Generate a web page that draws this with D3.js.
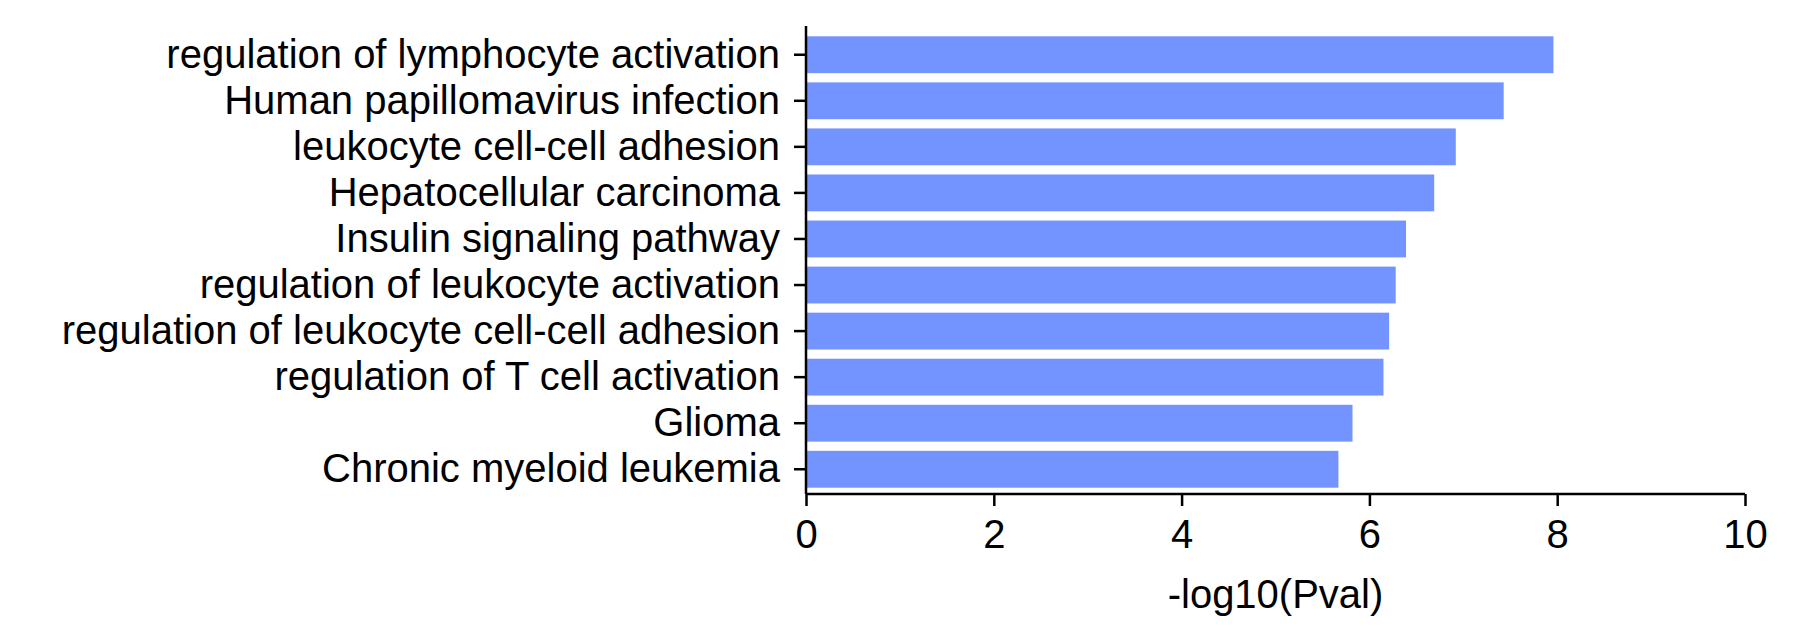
<!DOCTYPE html>
<html><head><meta charset="utf-8">
<script src="https://cdn.jsdelivr.net/npm/d3@7"></script>
<style>body{margin:0;background:#fff}text{font-family:"Liberation Sans",Arial,sans-serif}</style>
</head><body><div id="chart"></div>
<script>
// terms and their -log10(P)
var terms = ["regulation of lymphocyte activation", "Human papillomavirus infection",
  "leukocyte cell-cell adhesion", "Hepatocellular carcinoma", "Insulin signaling pathway",
  "regulation of leukocyte activation", "regulation of leukocyte cell-cell adhesion",
  "regulation of T cell activation", "Glioma", "Chronic myeloid leukemia"];
var values = [7.96, 7.43, 6.92, 6.69, 6.39, 6.28, 6.21, 6.15, 5.82, 5.67];
var xTicks = [0, 2, 4, 6, 8, 10];

var svgWidth = 1812, svgHeight = 644;
var margin = { top: 26, right: 67, bottom: 150, left: 806 };
var width = svgWidth - margin.left - margin.right;
var height = svgHeight - margin.top - margin.bottom;

var svg = d3.select("#chart").append("svg")
    .attr("width", svgWidth).attr("height", svgHeight);
var g = svg.append("g").attr("transform", `translate(${margin.left}, ${margin.top})`);

var x = d3.scaleLinear().domain([0, 10]).range([0, width]);
var y = d3.scaleBand().domain(terms).range([8, height - 4]).paddingInner(0.2).paddingOuter(0.05);

g.selectAll("rect").data(terms).enter().append("rect")
    .attr("x", 1)
    .attr("y", d => y(d))
    .attr("height", y.bandwidth())
    .attr("width", (d, i) => x(values[i]) - 1)
    .attr("fill", "#7393ff");

var xAxis = g.append("g").attr("transform", `translate(0, ${height})`)
    .call(d3.axisBottom(x).tickValues(xTicks).tickSize(12).tickPadding(14).tickSizeOuter(0));
var yAxis = g.append("g")
    .call(d3.axisLeft(y).tickSize(12).tickPadding(14).tickSizeOuter(0));
[xAxis, yAxis].forEach(a => {
  a.selectAll("path, line").attr("stroke", "#000").attr("stroke-width", 2.5);
  a.selectAll("text").attr("font-size", 40).attr("fill", "#000")
   .attr("font-family", "Liberation Sans, Arial, sans-serif");
});
xAxis.select("path").attr("d", `M0,0H${width}`);
yAxis.select("path").attr("d", `M0,0V${height}`);

g.append("text")
    .attr("x", width / 2).attr("y", height + 114)
    .attr("text-anchor", "middle").attr("font-size", 40)
    .text("-log10(Pval)");
</script></body></html>
